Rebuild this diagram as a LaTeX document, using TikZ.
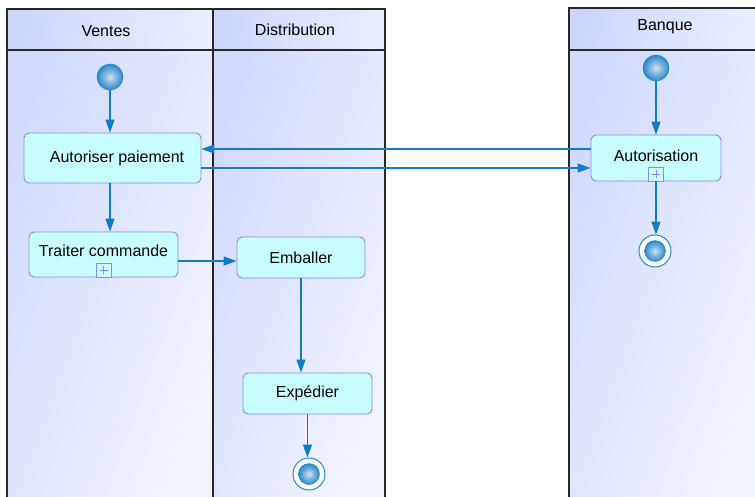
\documentclass[tikz,border=0pt]{standalone}
\usepackage{fontspec}
\setmainfont{Liberation Sans}
\usetikzlibrary{arrows.meta,calc}
\definecolor{lanel}{RGB}{210,218,252}
\definecolor{laner}{RGB}{242,245,255}
\definecolor{headl}{RGB}{204,214,251}
\definecolor{headr}{RGB}{234,239,255}
\definecolor{laneborder}{RGB}{40,40,40}
\definecolor{actfill}{RGB}{200,255,255}
\definecolor{actborder}{RGB}{136,136,255}
\definecolor{flow}{RGB}{16,124,196}
\definecolor{dotc}{RGB}{40,136,200}
\definecolor{dotin}{RGB}{205,225,240}
\tikzset{
  lanebg/.style={left color=lanel, right color=laner, shading angle=70},
  headbg/.style={left color=headl, right color=headr, shading angle=80},
  laneline/.style={draw=laneborder, line width=1.2pt},
  lanetitle/.style={font=\fontsize{16}{18}\selectfont, inner sep=0pt},
  act/.style={draw=actborder, fill=actfill, rounded corners=5pt, line width=0.9pt,
    inner sep=0pt, font=\fontsize{16}{18}\selectfont},
  startdot/.style={circle, draw=dotc, line width=0.6pt, inner color=dotin, outer color=dotc,
    minimum size=26pt, inner sep=0pt},
  enddot/.style={circle, draw=dotc, fill=white, line width=1pt, minimum size=32pt, inner sep=0pt},
  endin/.style={circle, draw=dotc, line width=0.5pt, inner color=dotin, outer color=dotc,
    minimum size=21pt, inner sep=0pt},
  flowarrow/.style={draw=flow, line width=1.2pt,
    -{Triangle[length=13pt,width=9pt]}},
  plusbox/.style={draw=actborder, fill=actfill, line width=0.8pt, minimum width=15pt,
    minimum height=14pt, inner sep=0pt, anchor=south},
}
\begin{document}
\begin{tikzpicture}[x=1pt,y=-1pt]
\clip (0,0) rectangle (755,496);
\fill[white] (0,0) rectangle (755,496);
% lanes
\shade[lanebg] (7,50) rectangle (213,500);
\shade[lanebg] (213,50) rectangle (385,500);
\shade[lanebg] (569,50) rectangle (760,500);
\shade[headbg] (7,9) rectangle (213,50);
\shade[headbg] (213,9) rectangle (385,50);
\shade[headbg] (569,8) rectangle (760,50);
\draw[laneline] (7,500) -- (7,9) -- (385,9) -- (385,500);
\draw[laneline] (213,9) -- (213,500);
\draw[laneline] (7,50) -- (385,50);
\draw[laneline] (569,500) -- (569,8) -- (760,8);
\draw[laneline] (569,50) -- (760,50);
\node[lanetitle] (tv) at (106,31) {Ventes};
\node[lanetitle] (td) at (295,30) {Distribution};
\node[lanetitle] (tb) at (665,27) {Banque};
% activities
\node[act, minimum width=177pt, minimum height=50pt] (a1) at (112.5,158) {\hspace*{9pt}Autoriser paiement};
\node[act, minimum width=149pt, minimum height=45pt] (t) at (103.5,254.5) {\raisebox{7pt}{Traiter commande}};
\node[plusbox] (tp) at (t.south) {};
\draw[actborder, line width=0.8pt] ($(tp.center)+(-4,0)$) -- ($(tp.center)+(4,0)$) ($(tp.center)+(0,-4)$) -- ($(tp.center)+(0,4)$);
\node[act, minimum width=128pt, minimum height=41pt] (e) at (301,257.5) {Emballer};
\node[act, minimum width=129pt, minimum height=41pt] (x) at (307.5,393.5) {Expédier};
\node[act, minimum width=130pt, minimum height=46pt] (au) at (656,158) {\raisebox{5pt}{Autorisation}};
\node[plusbox] (ap) at (au.south) {};
\draw[actborder, line width=0.8pt] ($(ap.center)+(-4,0)$) -- ($(ap.center)+(4,0)$) ($(ap.center)+(0,-4)$) -- ($(ap.center)+(0,4)$);
% start / end
\node[startdot] (s1) at (110,77) {};
\node[startdot] (s3) at (656,68) {};
\node[enddot] (f1) at (309,474) {};
\node[endin] (f1i) at (f1.center) {};
\node[enddot] (f3) at (655,251) {};
\node[endin] (f3i) at (f3.center) {};
% flows
\draw[flowarrow] (s1.south) -- (s1 |- a1.north);
\draw[flowarrow] (a1.south -| s1) -- (s1 |- t.north);
\coordinate (c1) at ($(au.west)+(0,-9)$);
\draw[flowarrow] (c1) -- (c1 -| a1.east);
\coordinate (c2) at ($(a1.east)+(0,10)$);
\draw[flowarrow] (c2) -- (c2 -| au.west);
\coordinate (c3) at ($(t.east)+(0,6.5)$);
\draw[flowarrow] (c3) -- (c3 -| e.west);
\draw[flowarrow] (e.south) -- (e.south |- x.north);
\draw[flowarrow] (x.south) -- (x.south |- f1.north);
\draw[flowarrow] (s3.south) -- (s3 |- au.north);
\draw[flowarrow] (ap.south) -- (ap.south |- f3.north);
\end{tikzpicture}
\end{document}
